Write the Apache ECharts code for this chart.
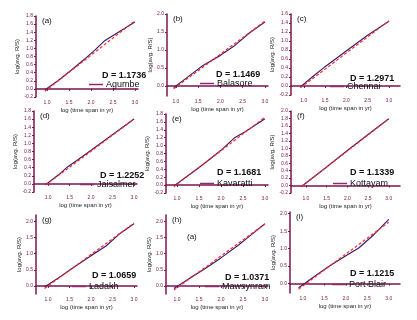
<!DOCTYPE html>
<html>
<head>
<meta charset="utf-8">
<script src="https://cdn.jsdelivr.net/npm/echarts@6/dist/echarts.min.js"></script>
<style>
  html, body { margin: 0; padding: 0; background: #fff; }
  #chart { width: 417px; height: 320px; }
</style>
</head>
<body>
<div id="chart"></div>
<script>
// station names, fractal dimension and panel tags
var stations = ['Agumbe', 'Balasore', 'Chennai', 'Jaisalmer', 'Kavaratti', 'Kottayam', 'Ladakh', 'Mawsynram', 'Port Blair']
var dValues = ['1.1736', '1.1469', '1.2971', '1.2252', '1.1681', '1.1339', '1.0659', '1.0371', '1.1215']
var tags = ['(a)', '(b)', '(c)', '(d)', '(e)', '(f)', '(g)', '(h)', '(i)']

// log(avg R/S) vs log(time span) -- observed (solid) and fitted (dashed)
var obsA = [[0.95, -0.03], [1.25, 0.2], [1.55, 0.46], [1.85, 0.73], [2.1, 0.97], [2.3, 1.18], [2.55, 1.35], [3.0, 1.65]]
var fitA = [[0.95, -0.06], [3.0, 1.68]]
var obsB = [[0.95, -0.05], [1.3, 0.28], [1.6, 0.56], [2.0, 0.85], [2.3, 1.1], [2.65, 1.47], [3.0, 1.78]]
var fitB = [[0.95, -0.08], [3.0, 1.8]]
var obsC = [[0.92, -0.02], [1.2, 0.2], [1.5, 0.43], [1.8, 0.64], [2.1, 0.85], [2.5, 1.13], [3.0, 1.44]]
var fitC = [[0.92, -0.04], [3.0, 1.45]]
var obsD = [[0.94, -0.02], [1.25, 0.23], [1.45, 0.42], [1.7, 0.6], [2.0, 0.83], [2.4, 1.14], [3.0, 1.6]]
var fitD = [[0.94, -0.03], [3.0, 1.6]]
var obsE = [[0.93, -0.02], [1.3, 0.28], [1.6, 0.53], [2.0, 0.88], [2.3, 1.19], [2.55, 1.35], [3.0, 1.68]]
var fitE = [[0.93, -0.04], [3.0, 1.72]]
var obsF = [[0.9, -0.02], [1.5, 0.5], [2.0, 0.94], [2.5, 1.37], [3.0, 1.79]]
var fitF = [[0.9, -0.02], [3.0, 1.79]]
var obsG = [[0.92, -0.03], [1.3, 0.3], [1.6, 0.58], [2.0, 0.94], [2.35, 1.24], [2.65, 1.6], [3.0, 1.93]]
var fitG = [[0.92, -0.08], [3.0, 1.95]]
var obsH = [[0.93, -0.08], [1.3, 0.25], [1.6, 0.5], [2.0, 0.87], [2.4, 1.27], [2.7, 1.6], [3.0, 1.93]]
var fitH = [[0.93, -0.13], [3.0, 1.92]]
var obsI = [[0.9, -0.12], [1.3, 0.23], [1.6, 0.49], [2.0, 0.8], [2.3, 1.02], [2.65, 1.4], [3.0, 1.84]]
var fitI = [[0.9, -0.16], [3.0, 1.76]]
var observed = [obsA, obsB, obsC, obsD, obsE, obsF, obsG, obsH, obsI]
var fitted = [fitA, fitB, fitC, fitD, fitE, fitF, fitG, fitH, fitI]

// tick values
var xTicks = [1.0, 1.5, 2.0, 2.5, 3.0]
var yTicksHalf = [0.0, 0.5, 1.0, 1.5, 2.0]

// layout of each panel
var panels = [
  { grid: [36, 16, 102, 81], x: [0.75, 3.07], y: [-0.2, 1.8], dPos: [102, 76], legPos: [89, 80] },
  { grid: [167, 14, 101, 82], x: [0.8, 3.07], y: [-0.28, 2.0], half: true, dPos: [216, 75], legPos: [200, 79] },
  { grid: [291, 14, 109, 81], x: [0.7, 3.26], y: [-0.2, 1.6], dPos: [350, 79], legPos: [330, 82] },
  { grid: [34, 111, 103, 81], x: [0.67, 3.07], y: [-0.2, 1.8], dPos: [100, 176], legPos: [80, 180] },
  { grid: [166, 114, 102, 79], x: [0.75, 3.07], y: [-0.2, 1.8], dPos: [217, 173], legPos: [200, 179] },
  { grid: [291, 111, 109, 82], x: [0.64, 3.27], y: [-0.2, 2.0], dPos: [350, 173], legPos: [333, 179] },
  { grid: [36, 215, 101, 79], x: [0.72, 3.07], y: [-0.25, 2.2], half: true, dPos: [92, 276], legPos: [72, 282] },
  { grid: [166, 215, 102, 79], x: [0.75, 3.07], y: [-0.25, 2.2], half: true, dPos: [225, 278], legPos: [205, 282] },
  { grid: [290, 212, 110, 81], x: [0.7, 3.26], y: [-0.27, 2.05], half: true, dPos: [350, 274], legPos: [332, 280] }
]

var axisColor = '#7b1450'
var fontFam = '"Liberation Sans", Arial, sans-serif'

var chart = echarts.init(document.getElementById('chart'))

var grids = [], xAxes = [], yAxes = [], series = [], legends = [], texts = []

panels.forEach(function (p, i) {
  grids.push({ left: p.grid[0], top: p.grid[1], width: p.grid[2], height: p.grid[3] })
  xAxes.push({
    type: 'value', gridIndex: i, min: p.x[0], max: p.x[1],
    name: 'log (time span in yr)', nameLocation: 'middle', nameGap: 10,
    nameTextStyle: { fontSize: 6, color: '#222', fontFamily: fontFam },
    axisLine: { lineStyle: { color: axisColor, width: 1.5 } },
    axisTick: { customValues: xTicks, length: 2, lineStyle: { color: axisColor } },
    axisLabel: { customValues: xTicks, fontSize: 5, margin: 3, color: axisColor, fontFamily: fontFam,
      formatter: function (v) { return v.toFixed(1) } },
    splitLine: { show: false }
  })
  var yAx = {
    type: 'value', gridIndex: i, min: p.y[0], max: p.y[1],
    name: 'log(avg. R/S)', nameLocation: 'middle', nameGap: 12,
    nameTextStyle: { fontSize: 6, color: '#222', fontFamily: fontFam },
    axisLine: { show: true, lineStyle: { color: axisColor, width: 1.5 } },
    axisTick: { show: true, length: 2, lineStyle: { color: axisColor } },
    axisLabel: { fontSize: 5, margin: 3, color: axisColor, fontFamily: fontFam,
      formatter: function (v) { return v.toFixed(1) } },
    splitLine: { show: false }
  }
  if (p.half) {
    yAx.axisTick.customValues = yTicksHalf
    yAx.axisLabel.customValues = yTicksHalf
  } else {
    yAx.interval = 0.2
  }
  yAxes.push(yAx)

  series.push({
    name: stations[i], type: 'line', xAxisIndex: i, yAxisIndex: i,
    data: observed[i], showSymbol: false, symbol: 'none',
    lineStyle: { color: '#3a1d6e', width: 1.2 }, itemStyle: { color: '#8e2a6a' },
    animation: false, z: 2
  })
  series.push({
    name: stations[i] + ' fit', type: 'line', xAxisIndex: i, yAxisIndex: i,
    data: fitted[i], showSymbol: false, symbol: 'none',
    lineStyle: { color: '#ff2a2a', width: 1.2, type: [3, 2] },
    animation: false, z: 3
  })

  legends.push({
    left: p.legPos[0], top: p.legPos[1], data: [stations[i]],
    itemWidth: 14, itemHeight: 8, itemGap: 2, padding: 0,
    icon: 'path://M0,0 L14,0 L14,1.5 L0,1.5 Z',
    itemStyle: { color: '#8e2a6a' },
    textStyle: { fontSize: 9, color: '#111', fontFamily: fontFam, padding: [0, 0, 0, -2] },
    selectedMode: false
  })

  texts.push({
    type: 'text', left: p.dPos[0], top: p.dPos[1] - 5,
    style: { text: 'D = ' + dValues[i], fontSize: 9, fontWeight: 'bold', fill: '#111', fontFamily: fontFam }
  })
  texts.push({
    type: 'text', left: p.grid[0] + 6, top: p.grid[1] + 1,
    style: { text: tags[i], fontSize: 8, fill: '#111', fontFamily: fontFam }
  })
})

// stray panel tag inside panel (h)
texts.push({
  type: 'text', left: 187, top: 233,
  style: { text: '(a)', fontSize: 8, fill: '#111', fontFamily: fontFam }
})

chart.setOption({
  backgroundColor: '#fff',
  animation: false,
  grid: grids,
  xAxis: xAxes,
  yAxis: yAxes,
  legend: legends,
  series: series,
  graphic: texts
})
</script>
</body>
</html>
